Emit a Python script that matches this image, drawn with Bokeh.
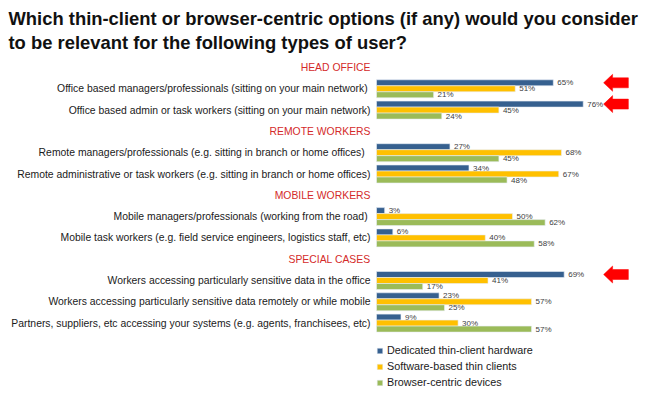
from bokeh.plotting import figure
from bokeh.models import Range1d, Label, Legend, LegendItem
from bokeh.core.properties import value
from bokeh.embed import file_html
from bokeh.resources import INLINE

# ---------------- data ----------------
title_lines = [
    "Which thin-client or browser-centric options (if any) would you consider",
    "to be relevant for the following types of user?",
]
sections = ["HEAD OFFICE", "REMOTE WORKERS", "MOBILE WORKERS", "SPECIAL CASES"]
categories = [
    "Office based managers/professionals  (sitting on your main network)",
    "Office based admin or task workers (sitting on your main network)",
    "Remote managers/professionals   (e.g. sitting in branch or home offices)",
    "Remote administrative or task workers (e.g. sitting in branch or home offices)",
    "Mobile managers/professionals  (working from the road)",
    "Mobile task workers (e.g. field service engineers, logistics staff, etc)",
    "Workers accessing particularly sensitive data in the office",
    "Workers accessing particularly sensitive data remotely or while mobile",
    "Partners, suppliers, etc accessing your systems (e.g. agents, franchisees, etc)",
]
section_of = [0, 0, 1, 1, 2, 2, 3, 3, 3]
dedicated = [65, 76, 27, 34, 3, 6, 69, 23, 9]
software = [51, 45, 68, 67, 50, 40, 41, 57, 30]
browser = [21, 24, 45, 48, 62, 58, 17, 25, 57]
series_names = ["Dedicated thin-client hardware", "Software-based thin clients", "Browser-centric devices"]
highlighted = [0, 1, 6]

# ---------------- styling ----------------
colors = ["#36608F", "#FFC000", "#9BBB59"]
header_color = "#D42A2A"
font = "Liberation Sans"
W, H = 648, 394
PX_PER_PCT = 2.72
ZERO_PX = 376
SLOT_PX = 21.3
FIRST_SLOT_PX = 67
BAR_PX = 6

# slot layout (headers take a slot)
row_y, header_y = [], []
slot = 0
prev = None
for i, s in enumerate(section_of):
    if s != prev:
        header_y.append(slot)
        slot += 1
        prev = s
    row_y.append(slot)
    slot += 1

bar_h = BAR_PX / SLOT_PX
x0 = -ZERO_PX / PX_PER_PCT
x1 = (W - ZERO_PX) / PX_PER_PCT
y_top = -FIRST_SLOT_PX / SLOT_PX
y_bot = (H - FIRST_SLOT_PX) / SLOT_PX

p = figure(width=W, height=H, output_backend="svg", toolbar_location=None,
           x_range=Range1d(x0, x1), y_range=Range1d(y_bot, y_top),
           x_axis_location=None, y_axis_location=None, min_border=0,
           outline_line_color=None, background_fill_color="white")
p.grid.visible = False

series = [dedicated, software, browser]
renderers = []
for k, vals in enumerate(series):
    ys = [y + (k - 1) * bar_h for y in row_y]
    r = p.hbar(y=ys, left=0, right=vals, height=bar_h, fill_color=colors[k],
               line_color="#E8EEF6", line_width=0.6)
    renderers.append(r)
    p.text(x=[v + 4 / PX_PER_PCT for v in vals], y=ys, text=[f"{v}%" for v in vals],
           text_font=value(font), text_font_size="8px", text_color="#404040",
           text_align="left", text_baseline="middle")

# category labels
p.text(x=[-6 / PX_PER_PCT] * len(categories), y=row_y, text=categories,
       text_font=value(font), text_font_size="10.4px", text_color="#1a1a1a",
       text_align="right", text_baseline="middle")
# section headers
p.text(x=[-6 / PX_PER_PCT] * len(sections), y=header_y, text=sections,
       text_font=value(font), text_font_size="10.4px", text_color=header_color,
       text_align="right", text_baseline="middle")

# highlight arrows
tip, neck, tail = 83.5, 86.8, 92.6
hh, sh = 8.5 / SLOT_PX, 5 / SLOT_PX
xs_list, ys_list = [], []
for i in highlighted:
    yc = row_y[i] - bar_h
    xs_list.append([tip, neck, neck, tail, tail, neck, neck])
    ys_list.append([yc, yc - hh, yc - sh, yc - sh, yc + sh, yc + sh, yc + hh])
p.patches(xs_list, ys_list, fill_color="#FF0000", line_color="#FF0000", line_width=0.5)

# title
for j, t in enumerate(title_lines):
    p.add_layout(Label(x=8, y=H - 18 - j * 24, x_units="screen", y_units="screen", text=t,
                       text_font=font, text_font_size="18.4px", text_font_style="bold",
                       text_color="#111111", text_baseline="middle"))

legend = Legend(items=[LegendItem(label=n, renderers=[r]) for n, r in zip(series_names, renderers)],
                location=(376, 4), orientation="vertical", padding=0, margin=0,
                spacing=0, glyph_width=7, glyph_height=7, label_height=16,
                label_standoff=4, label_text_font=font, label_text_font_size="10.8px",
                label_text_color="#1a1a1a", border_line_color=None,
                background_fill_alpha=0)
p.add_layout(legend)

open("out.html", "w").write(file_html(p, INLINE))
